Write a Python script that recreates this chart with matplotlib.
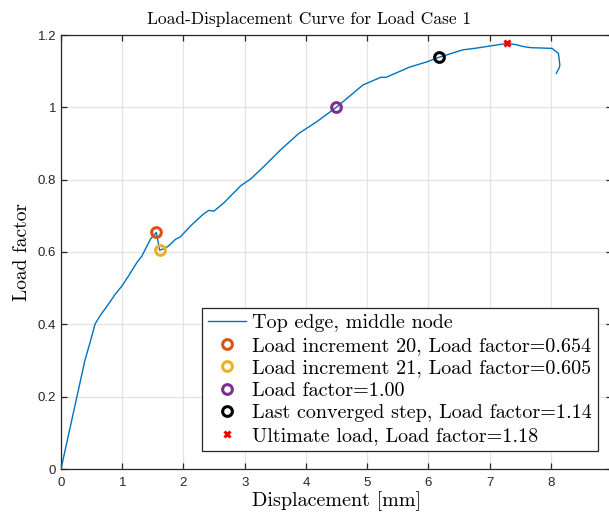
import numpy as np
import matplotlib
matplotlib.use('Agg')
import matplotlib.pyplot as plt

# curve (displacement [mm], load factor)
disp = [0.0, 0.39, 0.475, 0.557, 0.639, 0.776, 0.885, 0.995, 1.104, 1.24, 1.322,
        1.459, 1.557, 1.612, 1.678, 1.76, 1.869, 1.951, 2.115, 2.333, 2.415, 2.497,
        2.661, 2.934, 3.098, 3.317, 3.59, 3.885, 4.176, 4.496, 4.933, 5.224, 5.311,
        5.69, 5.981, 6.168, 6.564, 6.797, 7.292, 7.438, 7.555, 7.671, 8.02, 8.125,
        8.148, 8.14, 8.09]
load = [0.0, 0.30, 0.35, 0.401, 0.424, 0.456, 0.483, 0.506, 0.534, 0.571, 0.589,
        0.635, 0.654, 0.605, 0.609, 0.617, 0.635, 0.642, 0.672, 0.706, 0.715, 0.713,
        0.736, 0.783, 0.802, 0.837, 0.883, 0.928, 0.96, 1.0, 1.062, 1.083, 1.083,
        1.111, 1.126, 1.138, 1.159, 1.164, 1.177, 1.173, 1.168, 1.165, 1.163, 1.149,
        1.117, 1.11, 1.094]

# highlighted points
pt_x = [1.557, 1.612, 4.496, 6.168]
pt_y = [0.654, 0.605, 1.0, 1.138]
pt_colors = ['#D95319', '#EDB120', '#7E2F8E', 'black']
pt_labels = ['Load increment 20, Load factor=0.654',
             'Load increment 21, Load factor=0.605',
             'Load factor=1.00',
             'Last converged step, Load factor=1.14']
ult_x, ult_y = 7.292, 1.177

xticks = [0, 1, 2, 3, 4, 5, 6, 7, 8, 9]
xtick_labels = ['0', '1', '2', '3', '4', '5', '6', '7', '8', '']
yticks = [0, 0.2, 0.4, 0.6, 0.8, 1.0, 1.2]
ytick_labels = ['0', '0.2', '0.4', '0.6', '0.8', '1', '1.2']

plt.rcParams['mathtext.fontset'] = 'cm'
serif = 'cmr10'

fig = plt.figure(figsize=(6.09, 5.15), dpi=100)
W, H = 609, 515
ax = fig.add_axes([61 / W, (H - 469) / H, (612 - 61) / W, (469 - 35) / H])

ax.plot(disp, load, color='#0072BD', lw=1.0, label='Top edge, middle node', zorder=3)
for x, y, c, lab in zip(pt_x, pt_y, pt_colors, pt_labels):
    ax.plot(x, y, 'o', mfc='none', mec=c, mew=2.2, ms=7, label=lab, zorder=4)
ax.plot(ult_x, ult_y, 'x', color='red', mew=2.2, ms=5,
        label='Ultimate load, Load factor=1.18', zorder=4)

ax.set_xlim(0, 9)
ax.set_ylim(0, 1.2)
ax.set_xticks(xticks)
ax.set_xticklabels(xtick_labels)
ax.set_yticks(yticks)
ax.set_yticklabels(ytick_labels)
ax.grid(True, color='#e3e3e3', lw=0.9)
ax.set_axisbelow(True)
ax.tick_params(direction='in', top=True, right=True, length=4, width=0.9,
               colors='#262626', labelsize=9.5)
ax.tick_params(axis='x', pad=6)
for lbl in ax.get_xticklabels() + ax.get_yticklabels():
    lbl.set_family('Liberation Sans')
for s in ax.spines.values():
    s.set_color('#262626')
    s.set_linewidth(0.9)

ax.set_title('Load-Displacement Curve for Load Case 1', family=serif, fontsize=12.5,
             pad=8, x=(309 - 61) / (612 - 61))
ax.set_xlabel('Displacement [mm]', family=serif, fontsize=14.5, labelpad=1)
ax.set_ylabel('Load factor', family=serif, fontsize=14, labelpad=5)

leg = ax.legend(loc='lower right', bbox_to_anchor=((598 - 61) / (612 - 61), (469 - 451) / 434),
                prop={'family': serif, 'size': 14.5}, fancybox=False, framealpha=1,
                edgecolor='#262626', borderpad=0.3, labelspacing=0.22,
                handlelength=1.9, handletextpad=0.3, borderaxespad=0)
leg.get_frame().set_linewidth(0.9)

fig.savefig('out.png', dpi=100)
